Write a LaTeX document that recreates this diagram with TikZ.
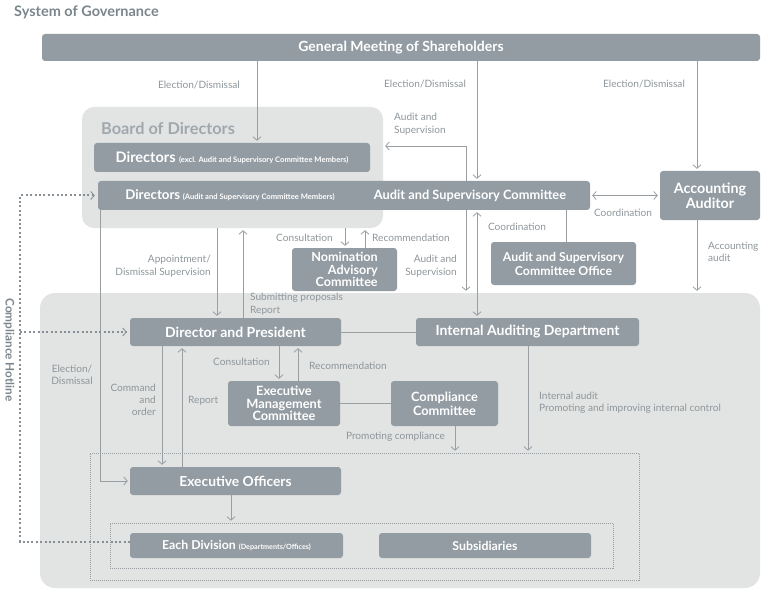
\documentclass[tikz,border=0pt]{standalone}
\usepackage{fontspec}
\setmainfont{Lato}
\usetikzlibrary{arrows.meta,calc}
\definecolor{boxc}{HTML}{939CA3}
\definecolor{bgc}{HTML}{E2E3E3}
\definecolor{lblc}{HTML}{8E969B}
\definecolor{linec}{HTML}{999EA2}
\definecolor{hotc}{HTML}{889096}
\definecolor{titlec}{HTML}{7B858C}
\definecolor{boardc}{HTML}{A0A8AE}
\tikzset{
  dark/.style={fill=boxc, rounded corners=3pt, text=white, font=\bfseries\fontsize{14}{16}\selectfont, inner sep=0pt, align=center},
  lightbox/.style={fill=bgc, rounded corners=12pt, inner sep=0pt},
  dotbox/.style={draw=linec, line width=0.6pt, dash pattern=on 1pt off 1pt, inner sep=0pt},
  lbl/.style={text=lblc, font=\fontsize{10.1}{12.3}\selectfont, inner sep=0pt},
  conn/.style={draw=linec, line width=0.8pt},
  arr/.style={conn, -{Straight Barb[length=3.5pt,width=8pt]}, shorten >=2pt},
  darr/.style={conn, {Straight Barb[length=3.5pt,width=8pt]}-{Straight Barb[length=3.5pt,width=8pt]}, shorten >=2pt, shorten <=2pt},
  hot/.style={draw=hotc, line width=2pt, dash pattern=on 2pt off 2.4pt},
}
\begin{document}
\begin{tikzpicture}[x=1pt,y=-1pt]
\useasboundingbox (0,0) rectangle (777,599);
% helper x positions
\coordinate (xa) at (257,0);
\coordinate (xb) at (477,0);
\coordinate (xc) at (697,0);
\coordinate (xd) at (466,0);
\coordinate (xe) at (566,0);
\coordinate (xf) at (345,0);
\coordinate (xg) at (365,0);
\coordinate (xh) at (217,0);
\coordinate (xi) at (243,0);
\coordinate (xj) at (100,0);
\coordinate (xk) at (279,0);
\coordinate (xl) at (298,0);
\coordinate (xm) at (162,0);
\coordinate (xn) at (182,0);
\coordinate (xo) at (455,0);
\coordinate (xp) at (528,0);
\coordinate (xq) at (231,0);
\coordinate (xr) at (20,0);
\coordinate (yas) at (0,146);

% title
\node[anchor=west, inner sep=0, text=titlec, font=\bfseries\fontsize{14.5}{16}\selectfont] (title) at (14,12) {System of Governance};

% backgrounds
\node[lightbox, minimum width=301pt, minimum height=121pt] (board) at (232.5,167.5) {};
\node[anchor=west, inner sep=0, text=boardc, font=\bfseries\fontsize{16.3}{18}\selectfont] (boardt) at (101,129) {Board of Directors};
\node[lightbox, rounded corners=15pt, minimum width=720pt, minimum height=295pt] (big) at (400,440.5) {};
\node[dotbox, minimum width=549pt, minimum height=127pt] (outer) at (364.5,516.5) {};
\node[dotbox, minimum width=503pt, minimum height=45pt] (inner) at (361.5,545.5) {};

% dark boxes
\node[dark, minimum width=718pt, minimum height=27pt] (gm) at (401,47.5) {General Meeting of Shareholders};
\node[dark, minimum width=276pt, minimum height=29pt] (direx) at (232,157.5) {{\fontsize{14.5}{16}\selectfont Directors} {\fontsize{7.6}{9}\selectfont (excl. Audit and Supervisory Committee Members)}};
\node[dark, minimum width=492pt, minimum height=29pt] (dirac) at (344,195.5) {};
\node[inner sep=0, text=white, font=\bfseries] (diract) at (230,195.5) {{\fontsize{13.3}{15}\selectfont Directors} {\fontsize{7.6}{9}\selectfont (Audit and Supervisory Committee Members)}};
\node[inner sep=0, text=white, font=\bfseries\fontsize{12.8}{14}\selectfont] (asc) at (470,195.5) {Audit and Supervisory Committee};
\node[dark, minimum width=100pt, minimum height=49pt, font=\bfseries\fontsize{14.3}{15.5}\selectfont] (aa) at (710,195.5) {Accounting\\Auditor};
\node[dark, minimum width=145pt, minimum height=43pt, font=\bfseries\fontsize{12.3}{14}\selectfont] (office) at (563.5,263.5) {Audit and Supervisory\\Committee Office};
\node[dark, minimum width=105pt, minimum height=43pt, align=right, font=\bfseries\fontsize{12.6}{12.3}\selectfont] (nom) at (344.5,269.5) {Nomination\\Advisory\\Committee};
\node[dark, minimum width=211pt, minimum height=28pt] (dirp) at (235.5,332) {Director and President};
\node[dark, minimum width=223pt, minimum height=28pt] (iad) at (527.5,332) {Internal Auditing Department};
\node[dark, minimum width=112pt, minimum height=45pt, font=\bfseries\fontsize{12.8}{12.3}\selectfont] (emc) at (284,403.5) {Executive\\Management\\Committee};
\node[dark, minimum width=107pt, minimum height=45pt, font=\bfseries\fontsize{12.8}{14}\selectfont] (cc) at (444.5,403.5) {Compliance\\Committee};
\node[dark, minimum width=211pt, minimum height=28pt, font=\bfseries\fontsize{13.8}{15}\selectfont] (eo) at (235.5,481) {Executive Officers};
\node[dark, minimum width=213pt, minimum height=25pt, font=\bfseries\fontsize{12.3}{14}\selectfont] (ediv) at (236.5,545.5) {Each Division {\fontsize{7.2}{8}\selectfont(Departments/Offices)}};
\node[dark, minimum width=212pt, minimum height=25pt, font=\bfseries\fontsize{12.3}{14}\selectfont] (subs) at (485,545.5) {Subsidiaries};
\coordinate (hotend) at ([yshift=4pt]ediv.west);

% connectors
\draw[arr] (gm.south -| xa) -- (direx.north -| xa);
\draw[arr] (gm.south -| xb) -- (dirac.north -| xb);
\draw[arr] (gm.south -| xc) -- (aa.north -| xc);
\draw[arr] (dirac.north -| xd) |- (board.east |- yas);
\draw[darr] (dirac.east) -- (aa.west);
\draw[conn] (dirac.south -| xe) -- (office.north -| xe);
\draw[arr] (board.south -| xf) -- (nom.north -| xf);
\draw[arr] (nom.north -| xg) -- (board.south -| xg);
\draw[arr] (board.south -| xh) -- (dirp.north -| xh);
\draw[arr] (dirp.north -| xi) -- (board.south -| xi);
\draw[arr] (dirac.south -| xd) -- (big.north -| xd);
\draw[darr] (dirac.south -| xb) -- (iad.north -| xb);
\draw[arr] (aa.south -| xc) -- (big.north -| xc);
\draw[conn] (dirp.east) -- (iad.west);
\draw[arr] (dirac.south -| xj) |- (eo.west);
\draw[arr] (dirp.south -| xk) -- (emc.north -| xk);
\draw[arr] (emc.north -| xl) -- (dirp.south -| xl);
\draw[arr] (dirp.south -| xm) -- (eo.north -| xm);
\draw[arr] (eo.north -| xn) -- (dirp.south -| xn);
\draw[conn] (emc.east) -- (cc.west);
\draw[arr] (cc.south -| xo) -- (outer.north -| xo);
\draw[arr] (iad.south -| xp) -- (outer.north -| xp);
\draw[arr] (eo.south -| xq) -- (inner.north -| xq);

% compliance hotline
\draw[hot, {Straight Barb[length=3.5pt,width=8pt,line width=0.9pt]}-, shorten <=3pt] (dirac.west) -| (xr |- hotend) -- (hotend);
\draw[hot, -{Straight Barb[length=3.5pt,width=8pt,line width=0.9pt]}, shorten >=3pt] (xr |- dirp.west) -- (dirp.west);
\node[rotate=-90, inner sep=0, text=titlec, font=\bfseries\fontsize{11.8}{13}\selectfont] (hotl) at (9,350) {Compliance Hotline};

% labels
\node[lbl, anchor=east] (l1) at (240,85) {Election/Dismissal};
\node[lbl] (l2) at (425,84) {Election/Dismissal};
\node[lbl] (l3) at (644,84) {Election/Dismissal};
\node[lbl, anchor=west, align=left] (l4) at (394,124) {Audit and\\Supervision};
\node[lbl] (l5) at (623,213) {Coordination};
\node[lbl] (l6) at (517,227) {Coordination};
\node[lbl, anchor=east] (l7) at (333,238) {Consultation};
\node[lbl, anchor=west] (l8) at (372,238) {Recommendation};
\node[lbl, anchor=east, align=right] (l9) at (211,266) {Appointment/\\Dismissal Supervision};
\node[lbl, anchor=east, align=right] (l10) at (457,266) {Audit and\\Supervision};
\node[lbl, anchor=west, align=left] (l11) at (708,252) {Accounting\\audit};
\node[lbl, anchor=west, align=left] (l12) at (250,304) {Submitting proposals\\Report};
\node[lbl, anchor=east] (l13) at (270,362) {Consultation};
\node[lbl, anchor=west] (l14) at (309,366) {Recommendation};
\node[lbl, align=center] (l15) at (72,375) {Election/\\Dismissal};
\node[lbl, anchor=east, align=right] (l16) at (156,400) {Command\\and\\order};
\node[lbl, anchor=west] (l17) at (188,401) {Report};
\node[lbl, anchor=east] (l18) at (445,437) {Promoting compliance};
\node[lbl, anchor=west, align=left] (l19) at (539,403) {Internal audit\\Promoting and improving internal control};
\end{tikzpicture}
\end{document}
